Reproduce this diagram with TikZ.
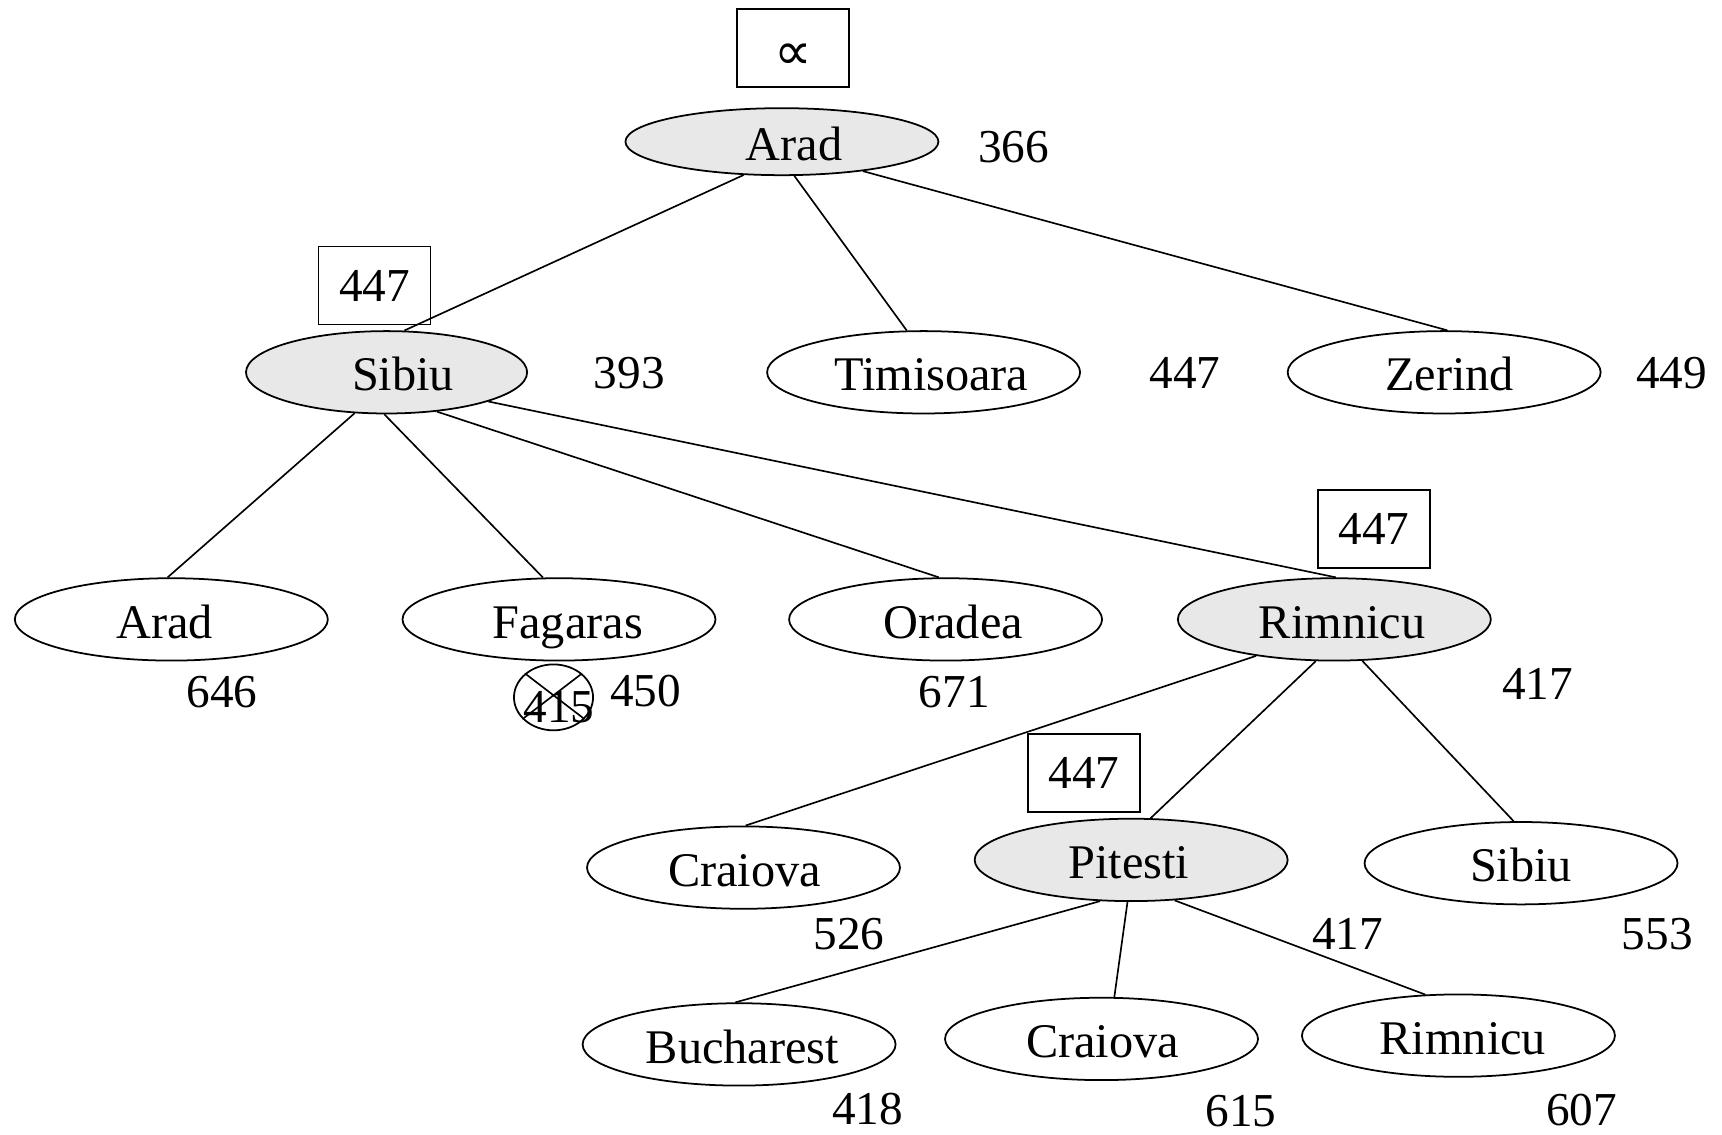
\documentclass[tikz,border=0pt]{standalone}
\usepackage{fontspec}
\setmainfont{Liberation Serif}
\newfontfamily\symfont{DejaVu Sans}
\usetikzlibrary{shapes.geometric}
\definecolor{expgray}{HTML}{E8E8E8}
% city name set slightly off the ellipse centre (shift = #1 / 2)
\newcommand\offname[2]{\makebox[0pt]{\hspace*{#1pt}#2}}
\begin{document}
\begin{tikzpicture}[x=0.5pt,y=-0.5pt,
  txt/.style={font=\fontsize{21.5}{24}\selectfont},
  city/.style={ellipse,draw,line width=0.8pt,minimum width=142.5pt,minimum height=37.5pt,
    inner sep=0pt,font=\fontsize{22}{24}\selectfont,text height=17pt,text depth=0pt},
  open/.style={city,fill=expgray},
  cost/.style={txt,inner sep=0pt},
  bound/.style={rectangle,draw,line width=0.8pt,minimum width=51pt,minimum height=35.5pt,inner sep=0pt,txt},
  edge/.style={line width=0.75pt}]
\useasboundingbox (0,0) rectangle (1568,1033);

% level 1
\node[bound,font=\fontsize{24}{26}\symfont,text height=19pt,text depth=0pt] (b0) at (722,44) {∝};
\node[open,minimum height=30.5pt] (arad) at (712,129) {\offname{11}{Arad}};
\node[cost] (c366) at (923,134) {366};

% level 2
\node[bound] (b1) at (341,260) {447};
\node[open,minimum width=128pt] (sibiu) at (352,339) {\offname{15}{Sibiu}};
\node[cost] (c393) at (573,340) {393};
\node[city] (timisoara) at (841,339) {\offname{7}{Timisoara}};
\node[cost] (c447) at (1079,340) {447};
\node[city] (zerind) at (1315,339) {\offname{5}{Zerind}};
\node[cost] (c449) at (1522,340) {449};

% level 3
\node[city] (arad2) at (156,564) {\offname{-6}{Arad}};
\node[cost] (c646) at (202,630) {646};
\node[city] (fagaras) at (509,564) {\offname{8}{Fagaras}};
\node[ellipse,draw,line width=0.8pt,minimum width=36pt,minimum height=30pt,inner sep=0pt] (x415) at (504,635) {};
\node[cost] (c415) at (509,644) {415};
\draw[edge] (x415.140) -- (x415.-35);
\draw[edge] (x415.40) -- (x415.-145);
\node[cost] (c450) at (588,629) {450};
\node[city] (oradea) at (861,564) {\offname{7}{Oradea}};
\node[cost] (c671) at (869,630) {671};
\node[bound] (b2) at (1251,482) {447};
\node[open] (rimnicu) at (1215,564) {\offname{7}{Rimnicu}};
\node[cost] (c417a) at (1400,623) {417};

% level 4
\node[city] (craiova) at (677,790) {\offname{1}{Craiova}};
\node[cost] (c526) at (773,851) {526};
\node[bound] (b3) at (987,704) {447};
\node[open] (pitesti) at (1030,783) {\offname{-2}{Pitesti}};
\node[cost] (c417b) at (1227,850) {417};
\node[city] (sibiu2) at (1385,786) {Sibiu};
\node[cost] (c553) at (1509,851) {553};

% level 5
\node[city] (bucharest) at (673,951) {\offname{3}{Bucharest}};
\node[cost] (c418) at (790,1010) {418};
\node[city] (craiova2) at (1003,946) {\offname{1}{Craiova}};
\node[cost] (c615) at (1130,1012) {615};
\node[city] (rimnicu2) at (1328,943) {\offname{4}{Rimnicu}};
\node[cost] (c607) at (1440,1011) {607};

% tree edges
\draw[edge] (arad.-139) -- (sibiu.67);
\draw[edge] (arad.-70) -- (timisoara.112);
\draw[edge] (arad.-20) -- (zerind.86);

\draw[edge] (sibiu.-128) -- (arad2.95);
\draw[edge] (sibiu.-93) -- (fagaras.111);
\draw[edge] (sibiu.-38) -- (oradea.99);
\draw[edge] (sibiu.-16) -- (rimnicu.88);

\draw[edge] (rimnicu.-155) -- (craiova.87);
\draw[edge] (rimnicu.-114) -- (pitesti.65);
\draw[edge] (rimnicu.-56) -- (sibiu2.100);

\draw[edge] (pitesti.-127) -- (bucharest.95);
\draw[edge] (pitesti.-95) -- (craiova2.73);
\draw[edge] (pitesti.-43) -- (rimnicu2.129);
\end{tikzpicture}
\end{document}
